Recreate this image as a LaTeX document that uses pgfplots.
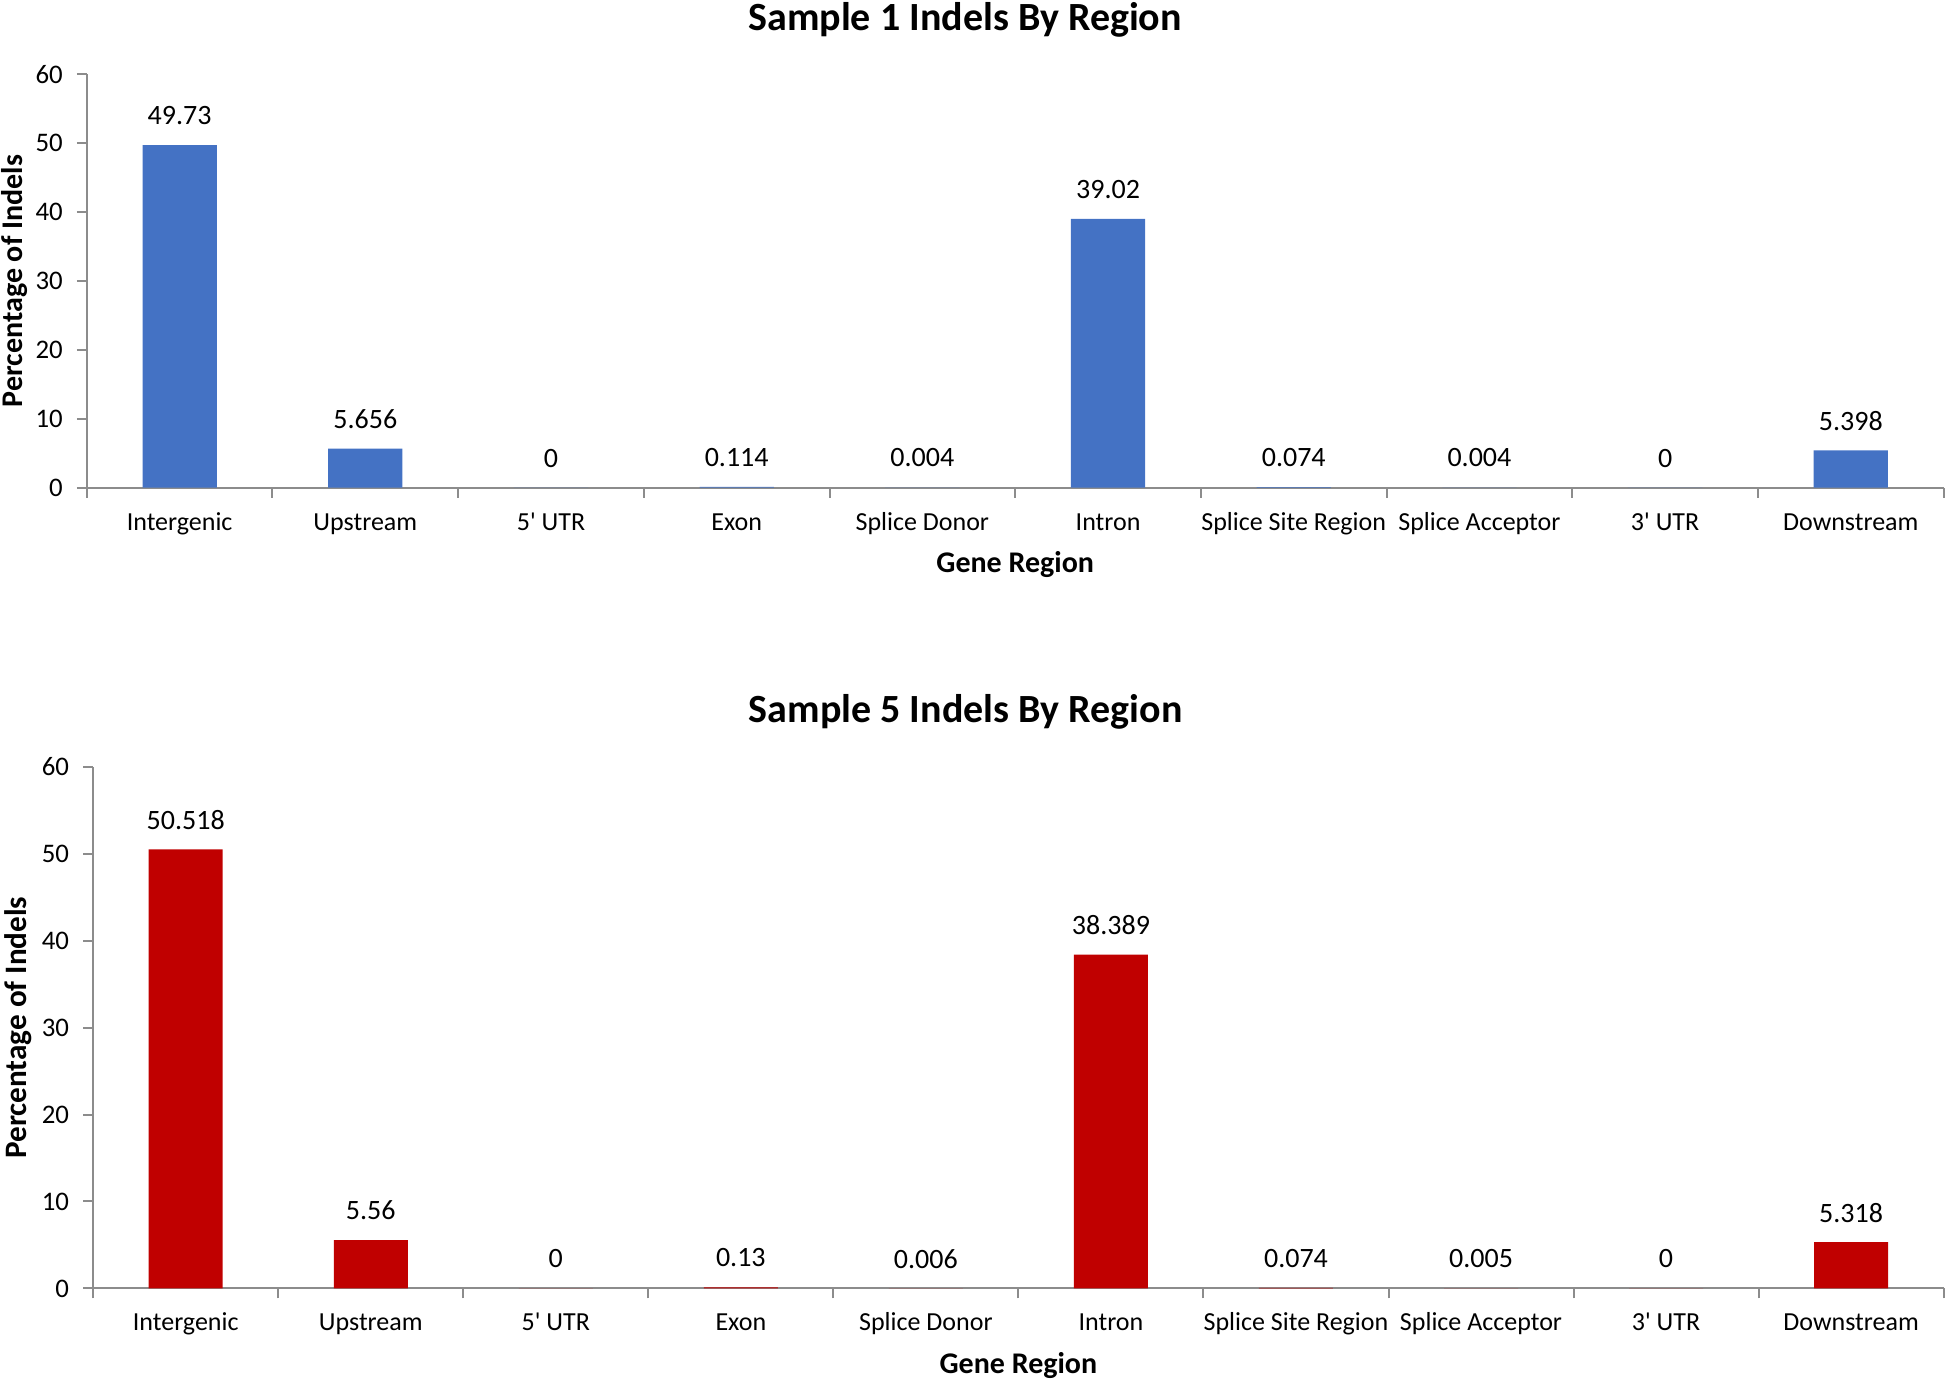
\documentclass[border=0pt]{standalone}
\usepackage{fontspec}
\setmainfont{Carlito}
\newfontfamily\cf{Carlito}
\usepackage{pgfplots}
\usepackage{pgfplotstable}
\pgfplotsset{compat=1.18}
\definecolor{barblue}{HTML}{4472C4}
\definecolor{barred}{HTML}{C00000}
\definecolor{axisgray}{HTML}{8C8C8C}

\pgfplotstableread{
x y label
0 49.73 49.73
1 5.656 5.656
2 0 0
3 0.114 0.114
4 0.004 0.004
5 39.02 39.02
6 0.074 0.074
7 0.004 0.004
8 0 0
9 5.398 5.398
}\sampleone

\pgfplotstableread{
x y label
0 50.518 50.518
1 5.56 5.56
2 0 0
3 0.13 0.13
4 0.006 0.006
5 38.389 38.389
6 0.074 0.074
7 0.005 0.005
8 0 0
9 5.318 5.318
}\samplefive

\pgfplotsset{indel/.style={
  scale only axis,
  font=\cf,
  ymin=0, ymax=60, ytick={0,10,...,60},
  xmin=-0.5, xmax=9.5,
  xtick={0,...,9},
  xticklabels={Intergenic, Upstream, {5{\cf'} UTR}, Exon, Splice Donor, Intron, Splice Site Region, Splice Acceptor, {3{\cf'} UTR}, Downstream},
  minor xtick={-0.5,0.5,...,9.5},
  axis x line*=bottom, axis y line*=left,
  axis line style={axisgray, line width=0.5pt, -},
  tick align=outside, major tick length=2.5pt, minor tick length=2.5pt,
  every major x tick/.append style={opacity=0},
  every minor x tick/.append style={axisgray, line width=0.5pt},
  every major y tick/.append style={axisgray, line width=0.5pt},
  /pgf/number format/assume math mode=true,
  yticklabel style={font=\cf\fontsize{6.7}{8}\selectfont, text=black},
  xticklabel style={font=\cf\fontsize{6.5}{8}\selectfont, text=black, anchor=base, yshift=-8.1pt},
  xlabel={Gene Region},
  ylabel={Percentage of Indels},
  xlabel style={font=\cf\bfseries\fontsize{7.5}{9}\selectfont, at={(axis description cs:0.5,0)}, anchor=center, yshift=-19.2pt},
  title style={font=\cf\bfseries\fontsize{10}{12}\selectfont, anchor=center},
  ybar, bar width=0.4,
  nodes near coords,
  point meta=explicit symbolic,
  every node near coord/.append style={font=\cf\fontsize{7}{8}\selectfont, text=black, anchor=center, yshift=7.4pt},
}}

\begin{document}
\begin{tikzpicture}[x=1pt,y=1pt]
\useasboundingbox (0,0) rectangle (486.5,-345.25);
\begin{axis}[indel,
  at={(21.7pt,-121.9pt)}, anchor=south west,
  width=464.2pt, height=103.3pt,
  title={Sample 1 Indels By Region},
  title style={at={(axis description cs:0.473,1)}, yshift=7.6pt},
  ylabel style={font=\cf\bfseries\fontsize{7.5}{9}\selectfont, at={(axis description cs:-0.0388,0.5)}, anchor=center},
]
\addplot[fill=barblue, draw=none] table[x=x, y=y, meta=label] {\sampleone};
\end{axis}
\begin{axis}[indel,
  at={(23.3pt,-322.1pt)}, anchor=south west,
  width=462.6pt, height=130.4pt,
  title={Sample 5 Indels By Region},
  title style={at={(axis description cs:0.4715,1)}, yshift=7.8pt},
  ylabel style={font=\cf\bfseries\fontsize{7.8}{9}\selectfont, at={(axis description cs:-0.0406,0.5)}, anchor=center},
]
\addplot[fill=barred, draw=none] table[x=x, y=y, meta=label] {\samplefive};
\end{axis}
\end{tikzpicture}
\end{document}
